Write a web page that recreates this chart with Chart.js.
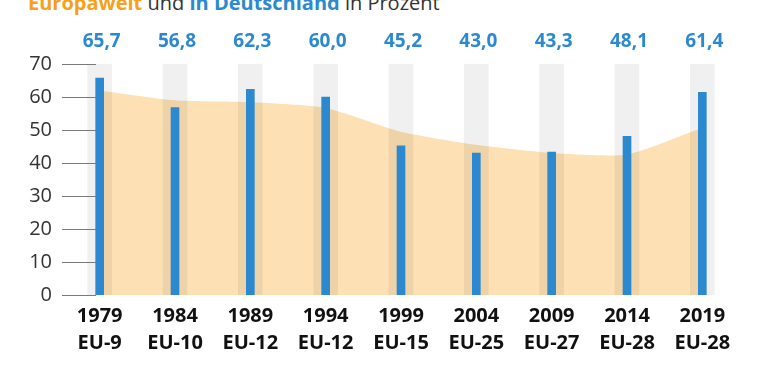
<!DOCTYPE html>
<html>
<head>
<meta charset="utf-8">
<script src="https://cdn.jsdelivr.net/npm/chart.js@4"></script>
<style>
  html, body { margin: 0; padding: 0; background: #fff; }
  #wrap { position: relative; width: 768px; height: 367px; overflow: hidden; }
  #title { position: absolute; left: 28px; top: -9px; font-family: "Open Sans", sans-serif; font-size: 20px; line-height: 24px; color: #333; white-space: nowrap; }
  #title .eu { color: #f5a11c; font-weight: 700; }
  #title .de { color: #2d89cf; font-weight: 700; }
  canvas { position: absolute; left: 0; top: 0; }
</style>
</head>
<body>
<div id="wrap">
  <div id="title"><span class="eu">Europaweit</span> und <span class="de">in Deutschland</span> in Prozent</div>
  <canvas id="c" width="768" height="367"></canvas>
</div>
<script>
const years = ['1979','1984','1989','1994','1999','2004','2009','2014','2019'];
const memberStates = ['EU-9','EU-10','EU-12','EU-12','EU-15','EU-25','EU-27','EU-28','EU-28'];
const germanyTurnout = [65.7, 56.8, 62.3, 60.0, 45.2, 43.0, 43.3, 48.1, 61.4];
const europeTurnout = [62.0, 59.0, 58.4, 56.7, 49.5, 45.5, 43.0, 42.6, 50.7];
const columnTop = [70, 70, 70, 70, 70, 70, 70, 70, 70];
const yTicks = [0, 10, 20, 30, 40, 50, 60, 70];

const labels = years.map((y, i) => [y, memberStates[i]]);
const BLUE = '#2d89cf';

const extras = {
  id: 'extras',
  afterDatasetsDraw(chart) {
    const ctx = chart.ctx, y = chart.scales.y, area = chart.chartArea;
    ctx.save();
    ctx.strokeStyle = '#7a7a7a';
    ctx.lineWidth = 1;
    yTicks.forEach(v => {
      const py = Math.round(y.getPixelForValue(v)) + 0.5;
      ctx.beginPath();
      ctx.moveTo(area.left, py);
      ctx.lineTo(area.left + 34, py);
      ctx.stroke();
    });
    const meta = chart.getDatasetMeta(0);
    ctx.fillStyle = BLUE;
    ctx.font = 'bold 19px "Open Sans", sans-serif';
    ctx.textAlign = 'center';
    ctx.textBaseline = 'middle';
    meta.data.forEach((el, i) => {
      ctx.fillText(germanyTurnout[i].toFixed(1).replace('.', ','), el.x + 2, area.top - 22);
    });
    ctx.restore();
  }
};

new Chart(document.getElementById('c'), {
  type: 'bar',
  data: {
    labels: labels,
    datasets: [
      { label: 'Deutschland', data: germanyTurnout, backgroundColor: BLUE, barThickness: 8, grouped: false, order: 0 },
      { label: 'Spalten', data: columnTop, backgroundColor: 'rgba(0,0,0,0.06)', barThickness: 24, grouped: false, order: 1 },
      { type: 'line', label: 'Europa', data: europeTurnout, backgroundColor: 'rgb(253,224,179)', borderWidth: 0, borderColor: 'rgba(0,0,0,0)', pointRadius: 0, fill: 'origin', tension: 0.2, order: 2 }
    ]
  },
  options: {
    responsive: false,
    animation: false,
    devicePixelRatio: 1,
    layout: { padding: { top: 64, right: 28, bottom: 10, left: 0 } },
    plugins: { legend: { display: false }, tooltip: { enabled: false } },
    scales: {
      x: {
        offset: true,
        grid: { display: false },
        border: { display: false },
        ticks: { color: '#111', font: { family: '"Open Sans", sans-serif', size: 20, weight: 'bold', lineHeight: 1.35 }, padding: 0, maxRotation: 0, autoSkip: false }
      },
      y: {
        min: 0, max: 70,
        afterFit(scale) { scale.width = 62; },
        grid: { display: false, drawTicks: false },
        border: { display: false },
        ticks: { stepSize: 10, color: '#333', padding: 10, font: { family: '"Open Sans", sans-serif', size: 20 } }
      }
    }
  },
  plugins: [extras]
});
</script>
</body>
</html>
